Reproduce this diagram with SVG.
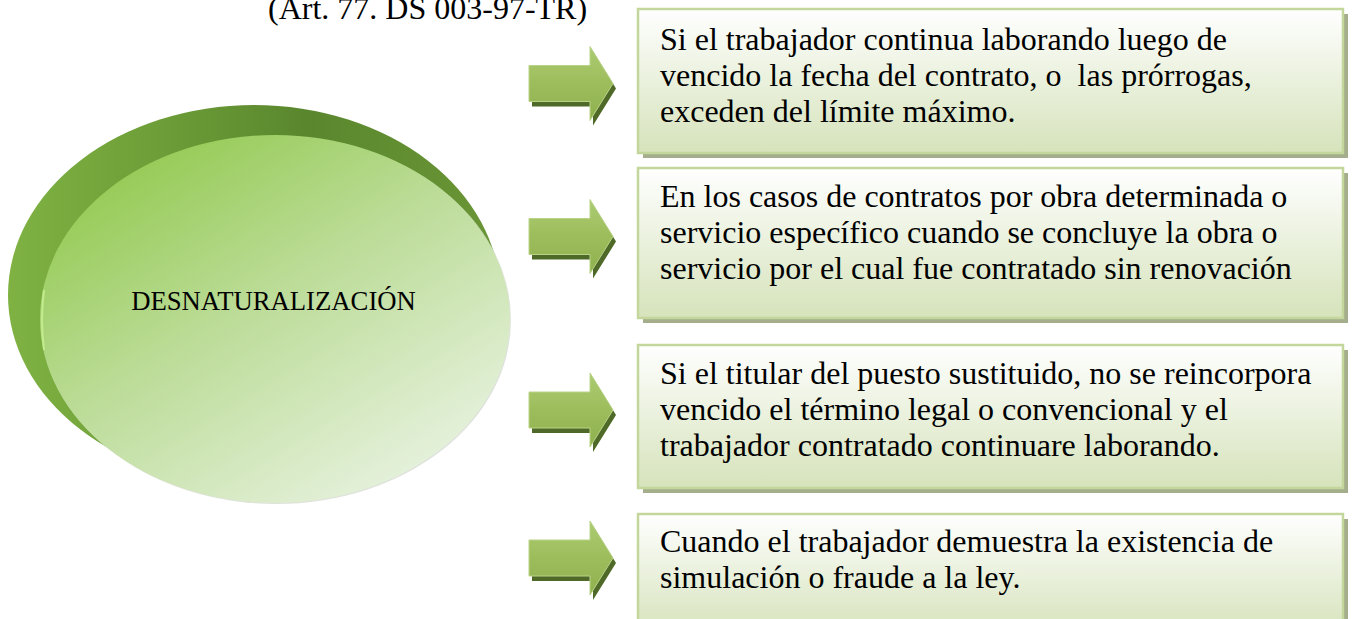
<svg xmlns="http://www.w3.org/2000/svg" xmlns:xlink="http://www.w3.org/1999/xlink" width="1354" height="619" viewBox="0 0 1354 619">
<style>
.t{font-family:"Liberation Serif","Times New Roman",serif;font-size:32px;fill:#000}
.c{font-family:"Liberation Serif","Times New Roman",serif;font-size:26.7px;fill:#000}
.box{fill:url(#boxg);stroke:#c3d69b;stroke-width:2.5}
.shadow{fill:#a4ad8c}
.arr{fill:url(#arrg);stroke:#b9d386;stroke-width:1}
.arrs{fill:#4f6a28}
</style>
<defs>
<linearGradient id="boxg" x1="0" y1="0" x2="0" y2="1">
<stop offset="0" stop-color="#ffffff"/>
<stop offset="0.45" stop-color="#ecf2e0"/>
<stop offset="1" stop-color="#d6e3bb"/>
</linearGradient>
<linearGradient id="arrg" x1="0" y1="0" x2="0" y2="1">
<stop offset="0" stop-color="#abcb72"/>
<stop offset="0.5" stop-color="#9dbd5c"/>
<stop offset="1" stop-color="#8fb04e"/>
</linearGradient>
<linearGradient id="backg" x1="0" y1="0" x2="1" y2="0">
<stop offset="0" stop-color="#7fb243"/>
<stop offset="0.3" stop-color="#6d9e38"/>
<stop offset="0.6" stop-color="#5a872e"/>
<stop offset="1" stop-color="#6a9636"/>
</linearGradient>
<linearGradient id="frontg" x1="0.15" y1="0.05" x2="0.85" y2="0.95">
<stop offset="0" stop-color="#92c94f"/>
<stop offset="0.45" stop-color="#bcdc98"/>
<stop offset="1" stop-color="#e9f3e2"/>
</linearGradient>
<path id="arrow" d="M529,-18 H590 V-37 L613,0 L590,37 V18 H529 Z"/>
</defs>
<rect width="1354" height="619" fill="#ffffff"/>

<g id="title">
<text class="t" font-family="Liberation Serif, serif" x="268" y="19">(Art. 77. DS 003-97-TR)</text>
</g>

<g id="desnaturalizacion">
<ellipse cx="254" cy="295" rx="246" ry="190" fill="url(#backg)"/>
<ellipse cx="276" cy="320" rx="235" ry="184" fill="#c9cfc4" opacity="0.6"/>
<ellipse cx="275" cy="319" rx="235" ry="184" fill="url(#frontg)"/>
<path d="M44,290 Q40,320 44,350" fill="none" stroke="#c4ec8e" stroke-width="2"/>
<text class="c" font-family="Liberation Serif, serif" x="273.5" y="310" text-anchor="middle">DESNATURALIZACIÓN</text>
</g>

<g id="connectors">
<g transform="translate(0,83.5)"><use xlink:href="#arrow" class="arrs" transform="translate(3,5)"/><use xlink:href="#arrow" class="arr"/></g>
<g transform="translate(0,236.5)"><use xlink:href="#arrow" class="arrs" transform="translate(3,5)"/><use xlink:href="#arrow" class="arr"/></g>
<g transform="translate(0,410)"><use xlink:href="#arrow" class="arrs" transform="translate(3,5)"/><use xlink:href="#arrow" class="arr"/></g>
<g transform="translate(0,558)"><use xlink:href="#arrow" class="arrs" transform="translate(3,5)"/><use xlink:href="#arrow" class="arr"/></g>
</g>

<g id="box1">
<rect class="shadow" x="643" y="14" width="705" height="144"/>
<rect class="box" x="638" y="9" width="705" height="144"/>
<text class="t" font-family="Liberation Serif, serif" x="660" y="50">Si el trabajador continua laborando luego de</text>
<text class="t" font-family="Liberation Serif, serif" x="660" y="86">vencido la fecha del contrato, o&#160; las prórrogas,</text>
<text class="t" font-family="Liberation Serif, serif" x="660" y="122">exceden del límite máximo.</text>
</g>

<g id="box2">
<rect class="shadow" x="643" y="173" width="705" height="150"/>
<rect class="box" x="638" y="168" width="705" height="150"/>
<text class="t" font-family="Liberation Serif, serif" x="660" y="207">En los casos de contratos por obra determinada o</text>
<text class="t" font-family="Liberation Serif, serif" x="660" y="243">servicio específico cuando se concluye la obra o</text>
<text class="t" font-family="Liberation Serif, serif" x="660" y="279">servicio por el cual fue contratado sin renovación</text>
</g>

<g id="box3">
<rect class="shadow" x="643" y="350" width="705" height="143"/>
<rect class="box" x="638" y="345" width="705" height="143"/>
<text class="t" font-family="Liberation Serif, serif" x="660" y="384">Si el titular del puesto sustituido, no se reincorpora</text>
<text class="t" font-family="Liberation Serif, serif" x="660" y="420">vencido el término legal o convencional y el</text>
<text class="t" font-family="Liberation Serif, serif" x="660" y="456">trabajador contratado continuare laborando.</text>
</g>

<g id="box4">
<rect class="shadow" x="643" y="519" width="705" height="120"/>
<rect class="box" x="638" y="514" width="705" height="120"/>
<text class="t" font-family="Liberation Serif, serif" x="660" y="552">Cuando el trabajador demuestra la existencia de</text>
<text class="t" font-family="Liberation Serif, serif" x="660" y="588">simulación o fraude a la ley.</text>
</g>
</svg>
